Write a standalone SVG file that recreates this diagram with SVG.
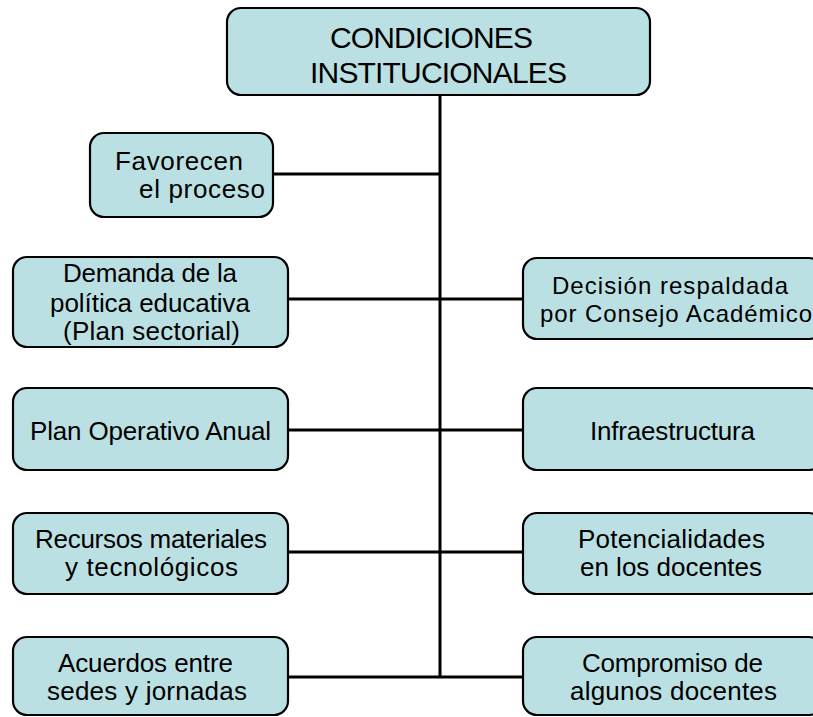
<svg xmlns="http://www.w3.org/2000/svg" width="813" height="717" viewBox="0 0 813 717">
<style>
.box{fill:#BBE0E3;stroke:#000;stroke-width:2.2}
.t{font-family:"Liberation Sans",Arial,sans-serif;font-size:26px;fill:#000}
.s{font-size:24px}
.h{font-family:"Liberation Sans",Arial,sans-serif;font-size:30px;fill:#000}
.c{stroke:#000;stroke-width:3;fill:none}
</style>
<rect width="813" height="717" fill="#fff"/>
<g id="connectors">
<line class="c" x1="440" y1="95" x2="440" y2="678"/>
<line class="c" x1="273" y1="174" x2="440" y2="174"/>
<line class="c" x1="288" y1="299" x2="523" y2="299"/>
<line class="c" x1="288" y1="430" x2="523" y2="430"/>
<line class="c" x1="288" y1="552" x2="523" y2="552"/>
<line class="c" x1="288" y1="677" x2="523" y2="677"/>
</g>
<g id="n-top">
<rect class="box" x="227" y="8" width="423" height="87" rx="14"/>
<text class="h" x="330" y="48" textLength="203" lengthAdjust="spacing">CONDICIONES</text>
<text class="h" x="310" y="83" textLength="257" lengthAdjust="spacing">INSTITUCIONALES</text>
</g>
<g id="n-favorecen">
<rect class="box" x="90" y="133" width="183" height="84" rx="14"/>
<text class="t" x="115" y="170" textLength="128" lengthAdjust="spacing">Favorecen</text>
<text class="t" x="139" y="198" textLength="126" lengthAdjust="spacing">el proceso</text>
</g>
<g id="n-demanda">
<rect class="box" x="13" y="257" width="275" height="90" rx="14"/>
<text class="t" x="63" y="282" textLength="174" lengthAdjust="spacing">Demanda de la</text>
<text class="t" x="50" y="312" textLength="200" lengthAdjust="spacing">política educativa</text>
<text class="t" x="63" y="340" textLength="177" lengthAdjust="spacing">(Plan sectorial)</text>
</g>
<g id="n-decision">
<rect class="box" x="523" y="258" width="300" height="81" rx="14"/>
<text class="t s" x="552" y="294" textLength="236" lengthAdjust="spacing">Decisión respaldada</text>
<text class="t s" x="540" y="322" textLength="272" lengthAdjust="spacing">por Consejo Académico</text>
</g>
<g id="n-plan">
<rect class="box" x="13" y="388" width="275" height="82" rx="14"/>
<text class="t" x="30" y="440" textLength="241" lengthAdjust="spacing">Plan Operativo Anual</text>
</g>
<g id="n-infra">
<rect class="box" x="523" y="388" width="300" height="82" rx="14"/>
<text class="t" x="590" y="440" textLength="165" lengthAdjust="spacing">Infraestructura</text>
</g>
<g id="n-recursos">
<rect class="box" x="13" y="513" width="275" height="81" rx="14"/>
<text class="t" x="35" y="548" textLength="232" lengthAdjust="spacing">Recursos materiales</text>
<text class="t" x="65" y="576" textLength="173" lengthAdjust="spacing">y tecnológicos</text>
</g>
<g id="n-potencialidades">
<rect class="box" x="523" y="513" width="300" height="81" rx="14"/>
<text class="t" x="578" y="548" textLength="187" lengthAdjust="spacing">Potencialidades</text>
<text class="t" x="580" y="576" textLength="182" lengthAdjust="spacing">en los docentes</text>
</g>
<g id="n-acuerdos">
<rect class="box" x="13" y="637" width="275" height="78" rx="14"/>
<text class="t" x="58" y="672" textLength="175" lengthAdjust="spacing">Acuerdos entre</text>
<text class="t" x="47" y="700" textLength="200" lengthAdjust="spacing">sedes y jornadas</text>
</g>
<g id="n-compromiso">
<rect class="box" x="523" y="637" width="300" height="78" rx="14"/>
<text class="t" x="582" y="672" textLength="181" lengthAdjust="spacing">Compromiso de</text>
<text class="t" x="570" y="700" textLength="207" lengthAdjust="spacing">algunos docentes</text>
</g>
</svg>
